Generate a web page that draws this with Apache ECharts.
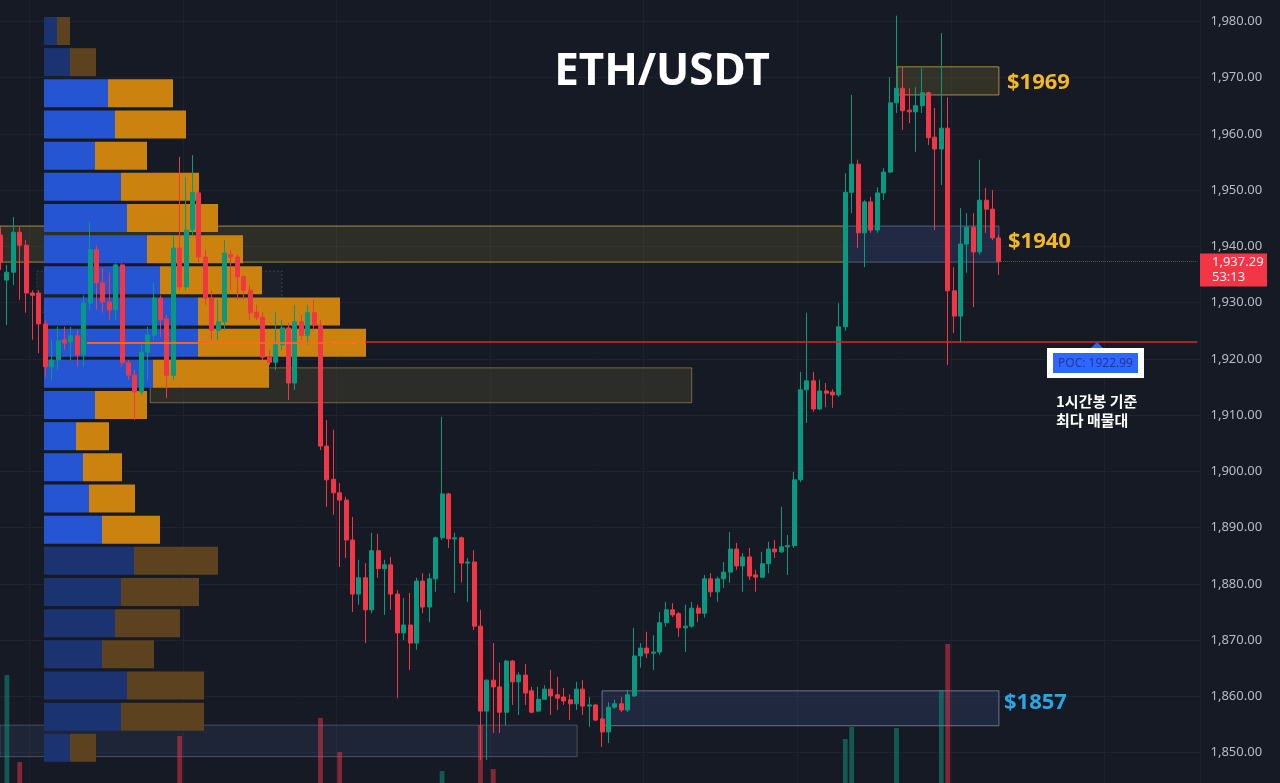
<!DOCTYPE html>
<html>
<head>
<meta charset="utf-8">
<script src="https://cdn.jsdelivr.net/npm/echarts@6/dist/echarts.min.js"></script>
<style>
  html, body { margin: 0; padding: 0; background: #161a25; }
  #chart { width: 1280px; height: 783px; }
</style>
</head>
<body>
<div id="chart"></div>
<script>
// 1h candles, [open, close, low, high]
var candles = [
  [1942.0,1937.2,1935.8,1943.3],[1934.0,1935.4,1926.0,1936.7],[1935.4,1942.5,1933.1,1945.2],[1942.5,1940.2,1930.5,1943.4],
  [1940.2,1931.7,1928.2,1941.1],[1931.7,1931.3,1923.4,1932.2],[1931.7,1926.2,1921.0,1932.2],[1926.2,1918.6,1916.8,1926.9],
  [1918.6,1919.8,1916.2,1923.4],[1919.8,1923.2,1918.0,1925.7],[1923.4,1922.8,1921.6,1925.7],[1923.0,1924.1,1919.8,1925.7],
  [1924.1,1920.7,1918.6,1925.1],[1920.7,1929.9,1918.6,1931.3],[1929.9,1939.4,1928.7,1944.3],[1939.4,1933.5,1928.7,1940.2],
  [1933.5,1930.1,1928.2,1936.2],[1930.1,1928.7,1926.9,1935.3],[1928.7,1936.7,1926.9,1937.0],[1936.7,1919.3,1918.6,1937.0],
  [1919.3,1917.1,1916.2,1919.8],[1917.1,1914.1,1909.1,1918.0],[1914.1,1921.2,1913.6,1922.5],[1921.2,1924.2,1916.2,1925.7],
  [1924.2,1930.8,1923.4,1933.5],[1930.8,1926.9,1923.9,1931.3],[1927.1,1917.1,1913.0,1927.8],[1917.1,1939.7,1916.2,1942.0],
  [1939.7,1932.8,1932.2,1955.9],[1932.8,1942.9,1932.2,1952.3],[1942.9,1949.6,1942.0,1956.2],[1949.5,1938.1,1937.2,1950.0],
  [1938.1,1930.8,1929.6,1939.4],[1930.8,1925.1,1923.4,1932.2],[1925.1,1926.6,1923.4,1930.5],[1926.6,1938.8,1925.1,1941.1],
  [1938.5,1938.1,1932.2,1939.4],[1938.1,1934.6,1930.5,1938.5],[1934.6,1932.2,1930.5,1934.9],[1932.2,1928.2,1926.9,1933.1],
  [1928.3,1927.4,1926.9,1929.6],[1927.4,1920.3,1919.8,1928.3],[1920.3,1919.4,1918.9,1921.6],[1919.4,1922.5,1918.0,1928.3],
  [1922.5,1925.5,1921.6,1926.9],[1925.5,1915.7,1912.7,1926.4],[1915.7,1926.6,1914.5,1929.6],[1926.6,1924.2,1923.4,1927.8],
  [1924.2,1928.2,1922.5,1929.6],[1928.2,1926.0,1925.1,1930.5],[1926.0,1904.5,1903.8,1926.9],[1904.5,1898.5,1893.7,1909.1],
  [1898.6,1896.2,1892.3,1907.4],[1896.2,1894.9,1883.0,1897.9],[1894.9,1887.8,1884.6,1895.5],[1887.8,1878.2,1875.0,1891.9],
  [1878.2,1881.1,1876.3,1884.3],[1881.1,1875.4,1869.5,1883.7],[1875.4,1885.9,1874.8,1889.1],[1885.9,1882.7,1881.1,1888.9],
  [1882.7,1883.4,1874.5,1884.3],[1883.4,1878.2,1875.4,1884.8],[1878.2,1871.3,1859.7,1878.9],[1871.3,1872.7,1870.0,1877.5],
  [1872.7,1869.5,1864.7,1878.4],[1869.5,1880.5,1868.3,1881.1],[1880.5,1875.9,1874.8,1881.9],[1875.9,1880.9,1873.2,1881.9],
  [1880.9,1888.2,1878.6,1888.4],[1888.2,1896.0,1887.8,1909.7],[1896.0,1888.0,1886.4,1896.2],[1888.0,1888.2,1878.4,1889.1],
  [1888.2,1883.7,1880.3,1888.4],[1883.7,1883.9,1876.8,1884.6],[1883.9,1872.5,1871.8,1886.0],[1872.5,1857.4,1848.7,1875.4],
  [1857.4,1862.9,1848.7,1863.0],[1862.9,1861.7,1853.5,1869.5],[1861.7,1857.2,1853.5,1866.0],[1857.2,1866.3,1854.9,1866.5],
  [1866.3,1862.6,1858.5,1866.5],[1862.6,1863.8,1856.7,1864.3],[1863.8,1860.6,1858.5,1865.8],[1861.0,1857.2,1857.0,1861.7],
  [1857.4,1859.5,1857.2,1861.7],[1859.5,1861.3,1859.4,1862.0],[1861.3,1860.1,1856.7,1864.7],[1860.3,1859.7,1857.6,1863.5],
  [1859.9,1859.2,1858.5,1861.5],[1859.4,1858.7,1855.8,1860.4],[1858.7,1861.3,1857.6,1862.6],[1861.3,1858.3,1856.7,1862.9],
  [1858.3,1858.5,1854.6,1859.9],[1858.5,1855.8,1855.6,1858.6],[1856.0,1853.7,1851.0,1856.2],[1853.7,1858.1,1851.7,1859.0],
  [1858.1,1858.7,1857.8,1859.4],[1858.7,1857.6,1857.2,1859.9],[1857.6,1860.3,1857.2,1861.2],[1860.1,1867.2,1859.9,1872.2],
  [1867.2,1868.6,1865.1,1869.5],[1868.6,1867.7,1866.8,1871.5],[1867.7,1867.9,1864.7,1870.9],[1867.9,1873.1,1867.4,1875.0],
  [1873.1,1875.4,1872.4,1876.8],[1875.4,1874.5,1874.1,1876.6],[1874.7,1872.2,1870.6,1875.0],[1872.2,1872.5,1867.9,1876.3],
  [1872.5,1875.7,1872.2,1876.8],[1875.7,1874.8,1873.2,1876.3],[1874.8,1880.9,1874.0,1881.6],[1880.9,1878.6,1877.7,1881.9],
  [1878.6,1880.9,1876.8,1881.3],[1880.9,1882.1,1879.3,1883.9],[1882.1,1886.2,1880.2,1889.2],[1886.2,1883.2,1882.5,1887.3],
  [1883.2,1884.8,1878.6,1885.5],[1884.8,1881.4,1880.7,1886.4],[1881.6,1881.2,1878.6,1882.5],[1881.2,1883.6,1881.1,1885.7],
  [1883.6,1886.2,1881.9,1887.5],[1886.2,1885.7,1884.6,1887.8],[1885.7,1886.6,1885.5,1893.7],[1886.6,1886.8,1881.6,1888.7],
  [1886.8,1898.5,1886.4,1899.9],[1898.5,1914.5,1898.1,1917.7],[1914.5,1916.1,1908.6,1928.2],[1916.1,1911.1,1910.6,1917.7],
  [1911.1,1914.3,1910.9,1916.3],[1914.3,1913.9,1911.4,1915.7],[1914.1,1913.6,1911.3,1914.6],[1913.6,1925.7,1913.2,1929.9],
  [1925.7,1949.6,1925.0,1953.0],[1949.6,1954.6,1945.9,1966.9],[1954.6,1942.4,1939.7,1955.4],[1942.4,1947.9,1936.3,1948.2],
  [1947.9,1942.9,1942.4,1948.8],[1942.9,1949.5,1942.4,1950.5],[1949.5,1953.2,1948.2,1953.9],[1953.2,1965.5,1953.0,1970.1],
  [1965.5,1968.1,1963.7,1981.0],[1968.1,1964.1,1960.7,1971.9],[1964.2,1963.9,1961.9,1968.1],[1963.9,1965.0,1956.8,1968.3],
  [1965.0,1967.3,1963.7,1971.7],[1967.3,1959.3,1958.0,1967.5],[1959.4,1957.3,1942.9,1964.6],[1957.3,1961.0,1950.9,1977.9],
  [1961.0,1932.1,1918.9,1966.5],[1932.1,1927.6,1924.6,1936.3],[1927.6,1940.4,1922.8,1946.8],[1940.4,1943.4,1935.3,1945.9],
  [1943.4,1939.0,1929.2,1945.9],[1939.0,1948.2,1938.5,1955.4],[1948.2,1946.6,1942.4,1950.4],[1946.6,1941.5,1941.1,1950.0],
  [1941.5,1937.29,1934.9,1942.0]
];

// volume per candle (only the tallest bars reach into view)
var volume = [
  0,108,0,21,0,0,0,0,0,0,
  0,0,0,0,0,0,0,0,0,0,
  0,0,0,0,0,0,0,0,47,0,
  0,0,0,0,0,0,0,0,0,0,
  0,0,0,0,0,0,0,0,0,0,
  65,0,0,31,0,0,0,0,0,0,
  0,0,0,0,0,0,0,0,0,12,
  0,0,0,0,0,58,0,14,0,0,
  0,0,0,0,0,0,0,0,0,0,
  0,0,0,0,0,0,0,0,0,0,
  0,0,0,0,0,0,0,0,0,0,
  0,0,0,0,0,0,0,0,0,0,
  0,0,0,0,0,0,0,0,0,0,
  0,0,44,56,0,0,0,0,0,0,
  55,0,0,0,0,0,0,93,139,0,
  0,0,0,0,0,0,0
];

// volume profile rows, top (1981) to bottom (1848)
var profileRows = ['r0','r1','r2','r3','r4','r5','r6','r7','r8','r9','r10','r11','r12','r13','r14','r15','r16','r17','r18','r19','r20','r21','r22','r23'];
var profileBuy  = [13,26,64,71,51,77,83,103,116,154,154,109,51,32,39,45,58,90,77,71,58,83,77,26];
var profileSell = [13,26,65,71,52,78,91,96,102,142,168,116,52,33,39,46,58,84,78,65,52,77,83,26];
var valueArea   = [0,0,1,1,1,1,1,1,1,1,1,1,1,1,1,1,1,0,0,0,0,0,0,0];

// zones: [start bar, end bar], [top price, bottom price]
var zoneBars   = [[-0.1,132],[132,156],[140.1,156],[23.4,108],[94,156],[-0.1,90.1],[5.7,44]];
var zonePrices = [[1943.6,1937.2],[1943.6,1937.2],[1971.9,1966.9],[1918.4,1912.2],[1861.0,1854.8],[1854.9,1849.3],[1935.6,1928.3]];
var zoneStyles = [
  {fill:'rgba(120,108,50,0.25)', stroke:'rgba(205,175,60,0.75)', dash:null},
  {fill:'rgba(55,75,120,0.35)',  stroke:'rgba(130,145,175,0.55)', dash:null},
  {fill:'rgba(115,105,50,0.3)',  stroke:'rgba(205,175,60,0.75)', dash:null},
  {fill:'rgba(85,80,50,0.35)',   stroke:'rgba(170,150,80,0.6)', dash:null},
  {fill:'rgba(50,70,110,0.35)',  stroke:'rgba(150,160,180,0.65)', dash:null},
  {fill:'rgba(45,60,90,0.35)',   stroke:'rgba(120,130,150,0.5)', dash:null},
  {fill:'rgba(90,90,90,0.1)',    stroke:'rgba(150,150,150,0.3)', dash:[2,2]}
];

var zoneLabels = ['$1969', '$1940', '$1857'];
var zoneLabelPrices = [1969.0, 1940.9, 1858.8];
var zoneLabelX = [1007, 1008, 1004];
var zoneLabelColors = ['#f5b820', '#f5b820', '#2aa6e6'];

var pocPrice = 1922.99;
var lastPrice = 1937.29;
var pocRow = 10;

var barCount = 188;
var upColor = '#089981', downColor = '#f23645';

var chart = echarts.init(document.getElementById('chart'));

var slots = [];
for (var i = 0; i < barCount; i++) slots.push(i);

var zoneData = zoneBars.map(function (b, i) {
  return [b[0], b[1], zonePrices[i][0], zonePrices[i][1]];
});

function renderZone(params, api) {
  var bw = api.size([1, 0])[0];
  var c0 = api.coord([0, api.value(2)]);
  var c1 = api.coord([0, api.value(3)]);
  var x0 = c0[0] + api.value(0) * bw;
  var x1 = c0[0] + api.value(1) * bw;
  var st = zoneStyles[params.dataIndex];
  return {
    type: 'rect',
    shape: { x: x0, y: c0[1], width: x1 - x0, height: c1[1] - c0[1] },
    style: { fill: st.fill, stroke: st.stroke, lineWidth: 1, lineDash: st.dash }
  };
}

var volData = volume.map(function (v, i) {
  var up = candles[i][1] >= candles[i][0];
  return { value: v, itemStyle: { color: up ? 'rgba(8,153,129,0.5)' : 'rgba(242,54,69,0.5)' } };
});

var buyData = profileBuy.map(function (v, i) {
  return { value: v, itemStyle: { color: valueArea[i] ? '#2655d4' : '#1c3372' } };
});
var sellData = profileSell.map(function (v, i) {
  return { value: v, itemStyle: { color: valueArea[i] ? '#cc820f' : '#5c421e' } };
});

function fmtPrice(v) {
  return v.toLocaleString('en-US', { minimumFractionDigits: 2, maximumFractionDigits: 2 });
}

var option = {
  backgroundColor: '#161a25',
  animation: false,
  grid: [
    { left: -2.7, right: 79.5, top: -35, bottom: -26, outerBoundsMode: 'none' },
    { left: -2.7, right: 79.5, top: 583, bottom: 0, outerBoundsMode: 'none' },
    { left: 44, width: 322, top: 15.4, height: 748, outerBoundsMode: 'none' }
  ],
  xAxis: [
    {
      type: 'category', gridIndex: 0, data: slots,
      axisLine: { show: false }, axisTick: { show: false }, axisLabel: { show: false },
      splitLine: { show: true, interval: function (i) { return (i - 5) % 24 === 0; }, lineStyle: { color: '#1e2230' } }
    },
    { type: 'category', gridIndex: 1, data: slots, show: false },
    { type: 'value', gridIndex: 2, min: 0, max: 322, show: false }
  ],
  yAxis: [
    {
      type: 'value', gridIndex: 0, position: 'right', min: 1840, max: 1990, interval: 10,
      axisLine: { show: false }, axisTick: { show: false },
      axisLabel: { margin: 10, color: '#b8bbc4', fontSize: 13, fontFamily: 'Noto Sans', formatter: fmtPrice },
      splitLine: { lineStyle: { color: '#1f2331' } }
    },
    { type: 'value', gridIndex: 1, min: 0, max: 200, show: false },
    { type: 'category', gridIndex: 2, data: profileRows, inverse: true, show: false }
  ],
  series: [
    {
      name: 'zones', type: 'custom', xAxisIndex: 0, yAxisIndex: 0, z: 1,
      renderItem: renderZone, data: zoneData, silent: true
    },
    {
      name: 'volume', type: 'bar', xAxisIndex: 1, yAxisIndex: 1, z: 2,
      barWidth: '75%', data: volData, silent: true
    },
    {
      name: 'buy', type: 'bar', xAxisIndex: 2, yAxisIndex: 2, stack: 'vp', z: 3,
      barWidth: 28, data: buyData, silent: true
    },
    {
      name: 'sell', type: 'bar', xAxisIndex: 2, yAxisIndex: 2, stack: 'vp', z: 3,
      barWidth: 28, data: sellData, silent: true,
      markLine: {
        silent: true, symbol: ['none', 'none'], label: { show: false },
        lineStyle: { color: 'rgba(255,105,25,0.9)', width: 2, type: 'solid' },
        data: [[{ coord: [43, pocRow] }, { coord: [322, pocRow] }]]
      }
    },
    {
      name: 'ETH/USDT', type: 'candlestick', xAxisIndex: 0, yAxisIndex: 0, z: 4,
      barWidth: '72%', data: candles,
      itemStyle: { color: upColor, color0: downColor, borderColor: upColor, borderColor0: downColor, borderWidth: 1 },
      markLine: {
        silent: true, symbol: ['none', 'none'], label: { show: false },
        data: [
          [{ coord: [57, pocPrice], lineStyle: { color: '#e3202b', width: 1.5, type: 'solid' } }, { coord: [barCount - 1, pocPrice] }],
          [{ coord: [156, lastPrice], lineStyle: { color: 'rgba(242,54,69,0.7)', width: 1, type: 'dotted' } }, { coord: [barCount - 1, lastPrice] }]
        ]
      }
    }
  ]
};

chart.setOption(option);

var yOf = function (p) { return chart.convertToPixel({ yAxisIndex: 0 }, p); };
var pocY = yOf(pocPrice);
var lastY = yOf(lastPrice);

var graphics = [
  {
    type: 'text', x: 662, y: 72, z: 10,
    style: { text: 'ETH/USDT', fill: '#ffffff', font: 'bold 44px "Noto Sans"', align: 'center', verticalAlign: 'middle', textAlign: 'center', textVerticalAlign: 'middle' }
  },
  {
    type: 'polygon', z: 10,
    shape: { points: [[1097, pocY], [1090, pocY + 7], [1104, pocY + 7]] },
    style: { fill: '#2962ff' }
  },
  { type: 'rect', z: 10, shape: { x: 1047, y: pocY + 6, width: 97, height: 30 }, style: { fill: '#ffffff' } },
  { type: 'rect', z: 10, shape: { x: 1053, y: pocY + 11, width: 85, height: 20 }, style: { fill: '#3165ff' } },
  {
    type: 'text', x: 1095.5, y: pocY + 21.5, z: 11,
    style: { text: 'POC: 1922.99', fill: '#1d3a96', font: '12px "Noto Sans"', align: 'center', verticalAlign: 'middle', textAlign: 'center', textVerticalAlign: 'middle' }
  },
  {
    type: 'text', x: 1056, y: pocY + 69, z: 10,
    style: { text: '1시간봉 기준\n최다 매물대', fill: '#ffffff', font: 'bold 15px "Noto Sans CJK KR"', lineHeight: 19, align: 'left', verticalAlign: 'middle', textAlign: 'left', textVerticalAlign: 'middle' }
  },
  { type: 'rect', z: 10, shape: { x: 1200, y: lastY - 8, width: 67, height: 33 }, style: { fill: '#f23645' } },
  {
    type: 'text', x: 1212, y: lastY + 1, z: 11,
    style: { text: fmtPrice(lastPrice), fill: '#fff0f0', font: '13px "Noto Sans"', align: 'left', verticalAlign: 'middle', textAlign: 'left', textVerticalAlign: 'middle' }
  },
  {
    type: 'text', x: 1212, y: lastY + 16, z: 11,
    style: { text: '53:13', fill: '#fff0f0', font: '13px "Noto Sans"', align: 'left', verticalAlign: 'middle', textAlign: 'left', textVerticalAlign: 'middle' }
  }
];

zoneLabels.forEach(function (t, i) {
  graphics.push({
    type: 'text', x: zoneLabelX[i], y: yOf(zoneLabelPrices[i]), z: 10,
    style: { text: t, fill: zoneLabelColors[i], font: 'bold 22px "Noto Sans"', align: 'left', verticalAlign: 'middle', textAlign: 'left', textVerticalAlign: 'middle' }
  });
});

chart.setOption({ graphic: graphics });
</script>
</body>
</html>
